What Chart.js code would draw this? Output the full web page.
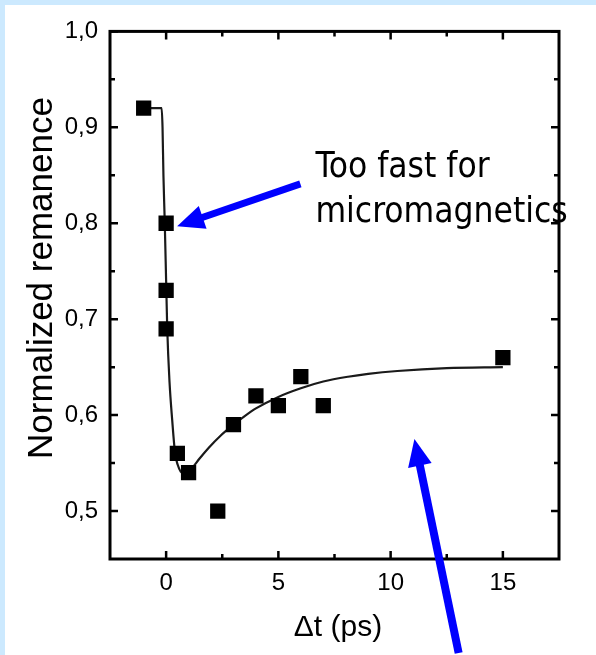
<!DOCTYPE html>
<html>
<head>
<meta charset="utf-8">
<script src="https://cdn.jsdelivr.net/npm/chart.js@4"></script>
<style>
  html, body { margin: 0; padding: 0; background: #cce9fe; }
  #marco { position: absolute; left: 5px; top: 5px; width: 591px; height: 650px; background: #fff; }
</style>
</head>
<body>
<div id="marco"><canvas id="grafica" width="591" height="650"></canvas></div>
<script>
// medidas (puntos cuadrados)
const tiempoPs = [-1, 0, 0, 0, 0.5, 1, 2.3, 3, 4, 5, 6, 7, 15];
const remanencia = [0.92, 0.80, 0.73, 0.69, 0.56, 0.54, 0.50, 0.59, 0.62, 0.61, 0.64, 0.61, 0.66];

// curva de ajuste
const ajusteTiempo = [-1, -0.2, -0.16, -0.12, -0.06, 0, 0.05, 0.15, 0.27, 0.4, 0.52, 0.65, 0.8, 1.0, 1.2, 1.5, 1.9, 2.4, 3.0, 3.5, 4.0, 5.0, 6.0, 7.0, 8.1, 9.0, 10.3, 12.5, 15];
const ajusteRemanencia = [0.92, 0.92, 0.90, 0.85, 0.80, 0.74, 0.69, 0.635, 0.595, 0.56, 0.548, 0.541, 0.539, 0.541, 0.546, 0.555, 0.566, 0.578, 0.590, 0.599, 0.607, 0.619, 0.628, 0.635, 0.640, 0.643, 0.646, 0.649, 0.650];

// ticks
const ticksX = [0, 5, 10, 15];
const ticksXMenores = [2.5, 7.5, 12.5];
const ticksY = [0.5, 0.6, 0.7, 0.8, 0.9, 1.0];
const ticksYMenores = [0.55, 0.65, 0.75, 0.85, 0.95];

const tituloX = 'Δt (ps)';
const tituloY = 'Normalized remanence';
const notaLineas = ['Too fast for', 'micromagnetics'];

const toPoints = (xs, ys) => xs.map((v, i) => ({ x: v, y: ys[i] }));

// marco, ticks hacia dentro, flechas y textos
const decorado = {
  id: 'decorado',
  afterDraw(chart) {
    const { ctx, chartArea: a, scales: { x, y } } = chart;
    ctx.save();
    ctx.strokeStyle = '#000';
    ctx.lineWidth = 3;
    ctx.strokeRect(a.left, a.top, a.right - a.left, a.bottom - a.top);

    ctx.lineWidth = 2.5;
    const rayaX = (vals, len) => vals.forEach(v => {
      const px = x.getPixelForValue(v);
      ctx.beginPath();
      ctx.moveTo(px, a.bottom); ctx.lineTo(px, a.bottom - len);
      ctx.moveTo(px, a.top); ctx.lineTo(px, a.top + len);
      ctx.stroke();
    });
    const rayaY = (vals, len) => vals.forEach(v => {
      const py = y.getPixelForValue(v);
      ctx.beginPath();
      ctx.moveTo(a.left, py); ctx.lineTo(a.left + len, py);
      ctx.moveTo(a.right, py); ctx.lineTo(a.right - len, py);
      ctx.stroke();
    });
    rayaX(ticksX, 8); rayaX(ticksXMenores, 5);
    rayaY(ticksY, 8); rayaY(ticksYMenores, 5);

    // titulos de ejes
    ctx.fillStyle = '#000';
    ctx.font = '30px "Liberation Sans", Arial, sans-serif';
    ctx.textAlign = 'center';
    ctx.textBaseline = 'alphabetic';
    ctx.fillText(tituloX, 333, 631);
    ctx.save();
    ctx.translate(47, 273);
    ctx.rotate(-Math.PI / 2);
    ctx.font = '35px "Liberation Sans", Arial, sans-serif';
    ctx.fillText(tituloY, 0, 0);
    ctx.restore();

    // nota
    ctx.font = '35px "DejaVu Sans Condensed", "DejaVu Sans", sans-serif';
    ctx.textAlign = 'left';
    const nx = x.getPixelForValue(6.65);
    ctx.fillText(notaLineas[0], nx, y.getPixelForValue(0.848));
    ctx.fillText(notaLineas[1], nx, y.getPixelForValue(0.801));

    // flechas azules
    const flecha = (x0, y0, x1, y1, ancho) => {
      const p0 = [x.getPixelForValue(x0), y.getPixelForValue(y0)];
      const p1 = [x.getPixelForValue(x1), y.getPixelForValue(y1)];
      const ang = Math.atan2(p1[1] - p0[1], p1[0] - p0[0]);
      const largo = 27, medio = 12;
      const bx = p1[0] - largo * Math.cos(ang), by = p1[1] - largo * Math.sin(ang);
      ctx.strokeStyle = '#0000ff';
      ctx.fillStyle = '#0000ff';
      ctx.lineWidth = ancho;
      ctx.beginPath();
      ctx.moveTo(p0[0], p0[1]);
      ctx.lineTo(bx + 2 * Math.cos(ang), by + 2 * Math.sin(ang));
      ctx.stroke();
      ctx.beginPath();
      ctx.moveTo(p1[0], p1[1]);
      ctx.lineTo(bx + medio * Math.sin(ang), by - medio * Math.cos(ang));
      ctx.lineTo(bx - medio * Math.sin(ang), by + medio * Math.cos(ang));
      ctx.closePath();
      ctx.fill();
    };
    flecha(5.98, 0.841, 0.49, 0.797, 7);
    flecha(13.03, 0.352, 11.06, 0.575, 8);
    ctx.restore();
  }
};

new Chart(document.getElementById('grafica').getContext('2d'), {
  type: 'scatter',
  data: {
    datasets: [
      {
        label: 'ajuste',
        data: toPoints(ajusteTiempo, ajusteRemanencia),
        showLine: true,
        borderColor: '#1a1a1a',
        borderWidth: 2.2,
        pointRadius: 0,
        cubicInterpolationMode: 'monotone',
        order: 2
      },
      {
        label: 'medidas',
        data: toPoints(tiempoPs, remanencia),
        pointStyle: 'rect',
        pointRadius: 10.8,
        pointHoverRadius: 10.8,
        backgroundColor: '#000',
        borderWidth: 0,
        order: 1
      }
    ]
  },
  options: {
    responsive: false,
    devicePixelRatio: 1,
    animation: false,
    layout: { padding: { left: 0, top: 25, right: 37, bottom: 0 } },
    plugins: { legend: { display: false }, tooltip: { enabled: false } },
    scales: {
      x: {
        type: 'linear',
        min: -2.5,
        max: 17.5,
        afterBuildTicks: s => { s.ticks = ticksX.map(v => ({ value: v })); },
        afterFit: s => { s.height = 96; },
        grid: { display: false, drawTicks: false },
        border: { display: false },
        ticks: {
          padding: 10,
          color: '#000',
          font: { family: '"Liberation Sans", Arial, sans-serif', size: 24 },
          callback: v => String(v)
        }
      },
      y: {
        type: 'linear',
        min: 0.45,
        max: 1.0,
        afterBuildTicks: s => { s.ticks = ticksY.map(v => ({ value: v })); },
        afterFit: s => { s.width = 105; },
        grid: { display: false, drawTicks: false },
        border: { display: false },
        ticks: {
          padding: 12,
          color: '#000',
          font: { family: '"Liberation Sans", Arial, sans-serif', size: 24 },
          callback: v => v.toFixed(1).replace('.', ',')
        }
      }
    }
  },
  plugins: [decorado]
});
</script>
</body>
</html>
